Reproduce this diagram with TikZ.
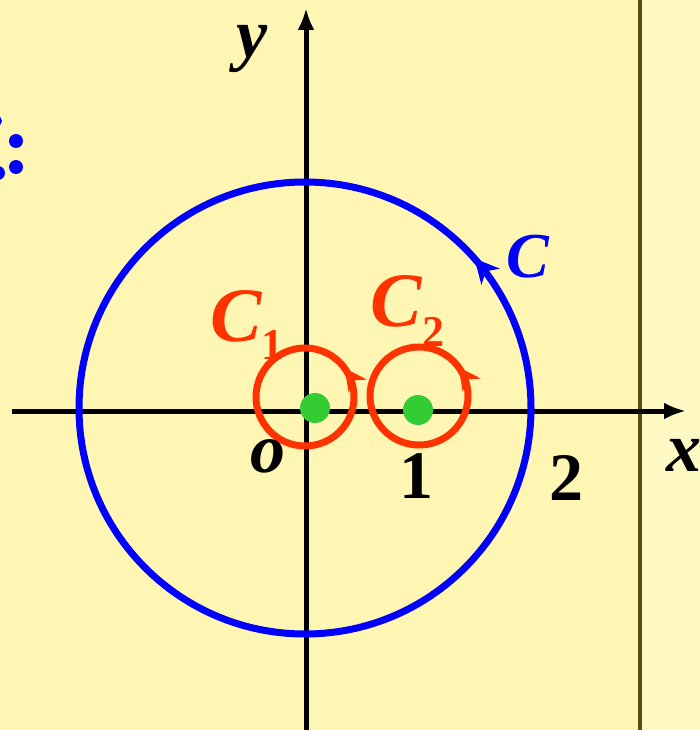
\documentclass[tikz,border=0pt]{standalone}
\usepackage{fontspec}
\setmainfont{Liberation Serif}
\usetikzlibrary{arrows.meta,decorations.markings}
\definecolor{bgL}{RGB}{255,246,180}
\definecolor{bgR}{RGB}{255,250,196}
\definecolor{divc}{RGB}{88,78,22}
\definecolor{myblue}{RGB}{0,0,255}
\definecolor{myred}{RGB}{255,51,0}
\definecolor{mygreen}{RGB}{51,204,51}
\tikzset{
  axis/.style={line width=5pt,-{Latex[length=22pt,width=17pt]}},
  lbl/.style={inner sep=0pt,font=\bfseries\itshape\fontsize{70}{70}\selectfont},
  num/.style={inner sep=0pt,font=\bfseries\fontsize{68}{68}\selectfont},
  sub/.style={inner sep=0pt,font=\bfseries\fontsize{44}{44}\selectfont,text=myred},
  bigc/.style={line width=7pt,draw=myblue,decoration={markings,mark=at position 0.115 with {\arrow{Stealth[length=24pt,width=24pt,inset=7pt]}}},postaction=decorate},
  smallc/.style={line width=7pt,draw=myred,decoration={markings,mark=at position 0.10 with {\arrow{Stealth[length=22pt,width=22pt,inset=7pt]}}},postaction=decorate},
  dot/.style={fill=mygreen},
  bdot/.style={fill=myblue}
}
\begin{document}
\begin{tikzpicture}[x=1pt,y=-1pt]
\useasboundingbox (0,0) rectangle (700,730);
\fill[bgL] (0,0) rectangle (640,730);
\fill[bgR] (640,0) rectangle (700,730);
\fill[divc] (638,0) rectangle (642,730);
% partial blue colon
\fill[bdot] (16,141) circle (7);
\fill[bdot] (16,167) circle (7);
\fill[bdot] (-3,121) circle (5);
\fill[bdot] (-2,173) circle (7);
% axes
\coordinate (xs) at (12,411);
\coordinate (xe) at (686,411);
\coordinate (ys) at (306,730);
\coordinate (ye) at (306,8);
\draw[axis] (xs) -- (xe);
\draw[axis] (ys) -- (ye);
% circles
\coordinate (O) at (305,408);
\draw[bigc] (O) ++(226,0) arc[start angle=0,end angle=-360,radius=226];
\coordinate (c1) at (305,397);
\coordinate (c2) at (419,396);
\draw[smallc] (c1) ++(49,0) arc[start angle=0,end angle=-360,radius=49];
\draw[smallc] (c2) ++(49,0) arc[start angle=0,end angle=-360,radius=49];
\fill[dot] (315,408) circle (15);
\fill[dot] (418,410) circle (15);
% labels
\node[lbl] (ly) at (252,49) {y};
\node[lbl,anchor=west] (lx) at (666,455) {x};
\node[lbl] (lo) at (268,456) {o};
\node[num] (l1) at (416,476) {1};
\node[num] (l2) at (566,478) {2};
\node[lbl,text=myblue,font=\bfseries\itshape\fontsize{64}{64}\selectfont] (lC) at (528,257) {C};
\node[lbl,text=myred,font=\bfseries\itshape\fontsize{77}{77}\selectfont] (lC1) at (236,316) {C};
\node[sub] (s1) at (272,345) {1};
\node[lbl,text=myred,font=\bfseries\itshape\fontsize{77}{77}\selectfont] (lC2) at (396,301) {C};
\node[sub] (s2) at (433,332) {2};
\end{tikzpicture}
\end{document}
